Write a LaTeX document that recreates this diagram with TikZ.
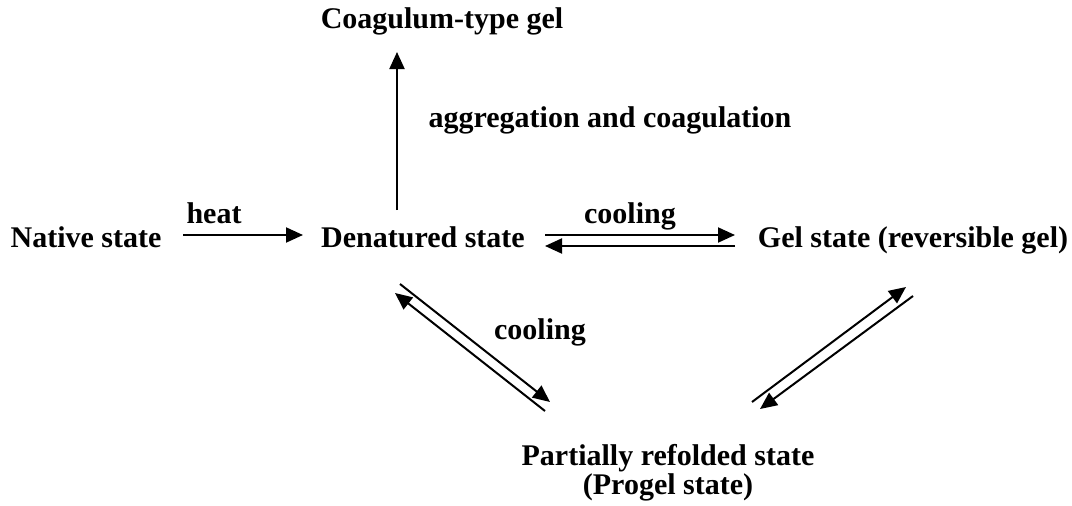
\documentclass[tikz,border=0pt]{standalone}
\usepackage{fontspec}
\setmainfont{Liberation Serif}
\usetikzlibrary{arrows.meta, calc}
\tikzset{
  statenode/.style = {inner sep=0pt, font=\fontsize{30}{29}\selectfont\bfseries, align=center},
  labelnode/.style = {inner sep=0pt, anchor=base, font=\fontsize{30}{29}\selectfont\bfseries},
  arr/.style = {line width=2pt, -{Triangle[length=17pt,width=15pt]}}
}
\begin{document}
\begin{tikzpicture}[x=1pt, y=-1pt]
  \useasboundingbox (0,0) rectangle (1072,506);
  \node[statenode, anchor=base] (native) at (86,247) {Native state};
  \node[statenode, anchor=base] (denat) at (423,247) {Denatured state};
  \node[statenode, anchor=base] (gel) at (913,247) {Gel state (reversible gel)};
  \node[statenode, anchor=base] (coag) at (442,28) {Coagulum-type gel};
  \node[statenode] (partial) at (668,473) {Partially refolded state\\(Progel state)};
  % labels
  \node[labelnode] (heat) at (214,223) {heat};
  \node[labelnode] (cool1) at (630,223) {cooling};
  \node[labelnode] (aggr) at (610,127) {aggregation and coagulation};
  \node[labelnode] (cool2) at (540,339) {cooling};
  % arrows
  \draw[arr] ($(native.base)+(97,-12)$) -- ($(denat.base)+(-120,-12)$);
  \draw[arr] ($(denat.base)+(122,-12)$) -- ($(gel.base)+(-178,-12)$);
  \draw[arr] ($(gel.base)+(-178,-1)$) -- ($(denat.base)+(122,-1)$);
  \draw[arr] ($(denat.base)+(-26,-37)$) -- ($(coag.base)+(-45,24)$);
  \draw[arr] ($(denat.base)+(-23,37)$) -- ($(partial)+(-118,-71)$);
  \draw[arr] ($(partial)+(-123,-62)$) -- ($(denat.base)+(-28,46)$);
  \draw[arr] ($(partial)+(84,-71)$) -- ($(gel.base)+(-7,40)$);
  \draw[arr] ($(gel.base)+(0,49)$) -- ($(partial)+(92,-64)$);
\end{tikzpicture}
\end{document}
